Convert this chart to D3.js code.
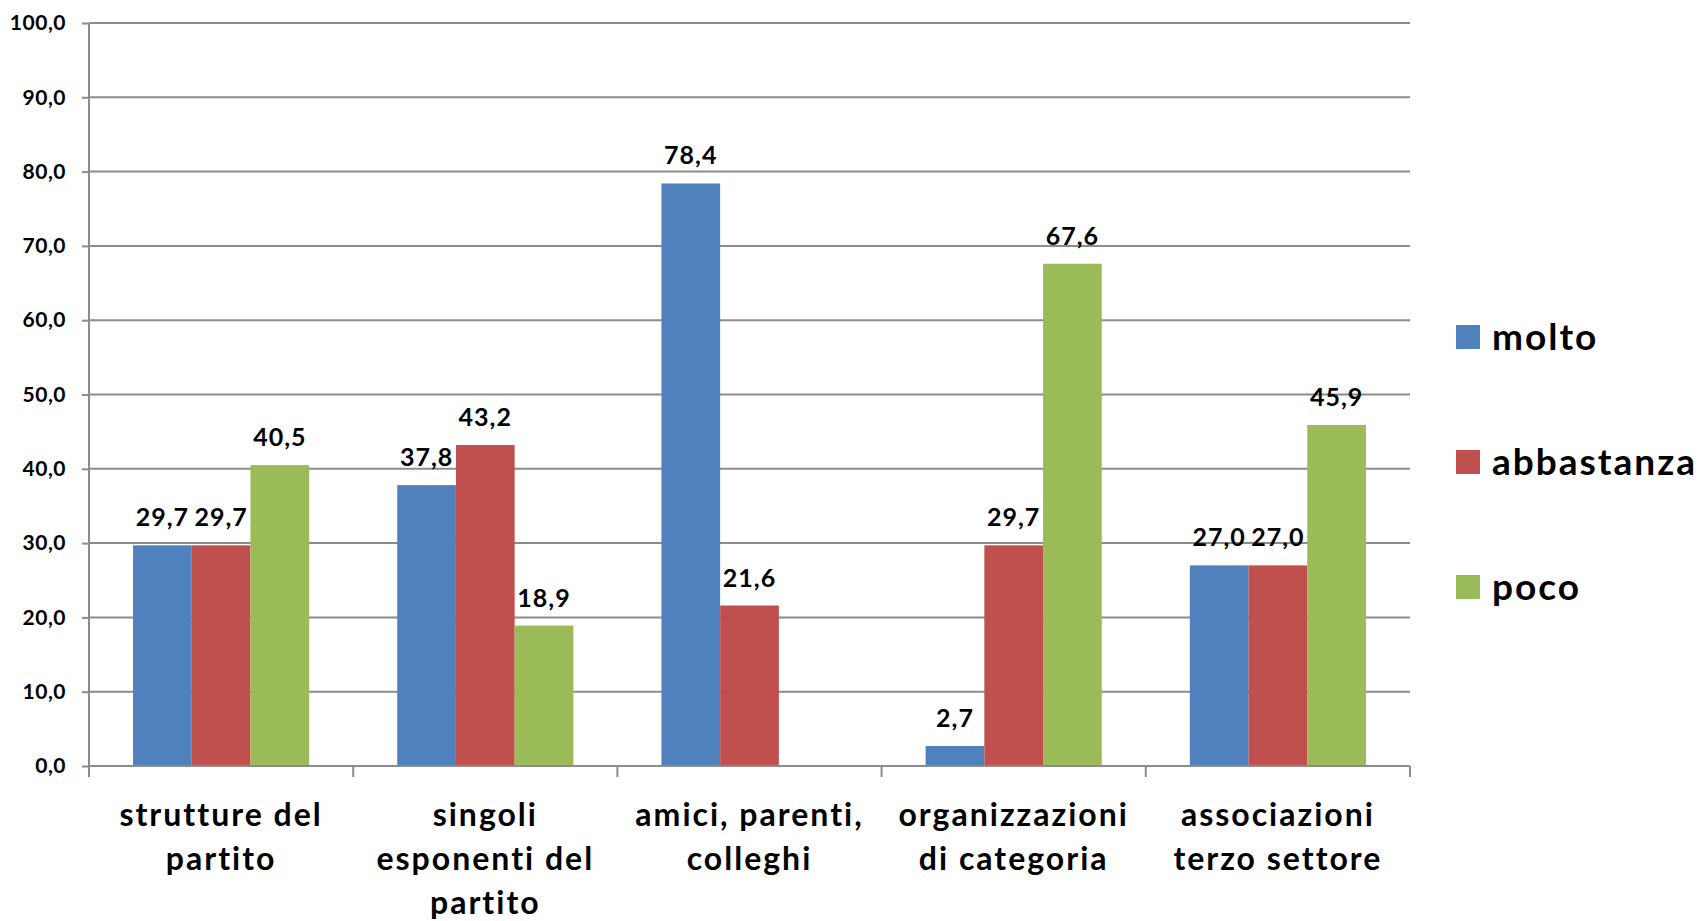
<!DOCTYPE html>
<html>
<head>
<meta charset="utf-8">
<script src="https://cdn.jsdelivr.net/npm/d3@7"></script>
<style>
  html, body { margin: 0; padding: 0; background: #fff; }
  svg text { font-family: Lato, "Open Sans", sans-serif; font-weight: bold; fill: #000; }
</style>
</head>
<body>
<div id="chart"></div>
<script>
const categories = [
  ["strutture del", "partito"],
  ["singoli", "esponenti del", "partito"],
  ["amici, parenti,", "colleghi"],
  ["organizzazioni", "di categoria"],
  ["associazioni", "terzo settore"]
];
const seriesNames = ["molto", "abbastanza", "poco"];
const molto = [29.7, 37.8, 78.4, 2.7, 27.0];
const abbastanza = [29.7, 43.2, 21.6, 29.7, 27.0];
const poco = [40.5, 18.9, null, 67.6, 45.9];
const yTicks = [0, 10, 20, 30, 40, 50, 60, 70, 80, 90, 100];
const colors = ["#4F81BD", "#C0504D", "#9BBB59"];

const seriesValues = [molto, abbastanza, poco];
const fullWidth = 1699, fullHeight = 921;
const plotLeft = 89, plotRight = 1410, plotTop = 23, plotBottom = 766;

const it = d3.formatLocale({ decimal: ",", thousands: ".", grouping: [3], currency: ["", "€"] });
const fmt = it.format(".1f");

const svg = d3.select("#chart").append("svg")
  .attr("width", fullWidth)
  .attr("height", fullHeight);

const yScale = d3.scaleLinear().domain([0, 100]).range([plotBottom, plotTop]);
const x0 = d3.scaleBand().domain(d3.range(categories.length)).range([plotLeft, plotRight]).paddingInner(0).paddingOuter(0);
// gap width 150% -> bar group takes 3/(3+1.5) of the band
const x1 = d3.scaleBand().domain(d3.range(seriesNames.length))
  .range([0, x0.bandwidth()]).paddingInner(0).paddingOuter(0.75);

// gridlines
svg.append("g")
  .selectAll("line")
  .data(yTicks.filter(d => d > 0))
  .enter().append("line")
  .attr("x1", plotLeft).attr("x2", plotRight)
  .attr("y1", d => yScale(d)).attr("y2", d => yScale(d))
  .attr("stroke", "#8c8c8c").attr("stroke-width", 2);

// y axis
const yAxis = d3.axisLeft(yScale).tickValues(yTicks).tickFormat(fmt).tickSize(7).tickPadding(16);
const gy = svg.append("g").attr("transform", "translate(" + plotLeft + ",0)").call(yAxis);
gy.select(".domain").attr("stroke", "#8c8c8c").attr("stroke-width", 2).attr("d", "M0," + plotTop + "V" + (plotBottom + 11));
gy.selectAll(".tick line").attr("stroke", "#8c8c8c").attr("stroke-width", 2);
gy.selectAll(".tick text").style("font-size", "21px").style("letter-spacing", "0.5px").attr("fill", "#000");

// bars
const groups = svg.append("g").selectAll("g")
  .data(categories)
  .enter().append("g")
  .attr("transform", (d, i) => "translate(" + x0(i) + ",0)");

groups.selectAll("rect")
  .data((d, i) => seriesValues.map((s, j) => ({ j: j, v: s[i] })).filter(e => e.v !== null))
  .enter().append("rect")
  .attr("x", d => x1(d.j))
  .attr("width", x1.bandwidth())
  .attr("y", d => yScale(d.v))
  .attr("height", d => yScale(0) - yScale(d.v))
  .attr("fill", d => colors[d.j]);

groups.selectAll("text.val")
  .data((d, i) => seriesValues.map((s, j) => ({ j: j, v: s[i] })).filter(e => e.v !== null))
  .enter().append("text")
  .attr("class", "val")
  .attr("x", d => x1(d.j) + x1.bandwidth() / 2)
  .attr("y", d => yScale(d.v) - 19)
  .attr("text-anchor", "middle")
  .style("font-size", "25px")
  .style("letter-spacing", "1px")
  .text(d => fmt(d.v));

// x axis
const xAxisG = svg.append("g");
xAxisG.append("line")
  .attr("x1", plotLeft).attr("x2", plotRight)
  .attr("y1", plotBottom).attr("y2", plotBottom)
  .attr("stroke", "#8c8c8c").attr("stroke-width", 2);
xAxisG.selectAll("line.tick")
  .data(d3.range(categories.length + 1))
  .enter().append("line")
  .attr("class", "tick")
  .attr("x1", d => plotLeft + d * x0.step()).attr("x2", d => plotLeft + d * x0.step())
  .attr("y1", plotBottom).attr("y2", plotBottom + 11)
  .attr("stroke", "#8c8c8c").attr("stroke-width", 2);

const lineYs = [826, 870, 914];
categories.forEach((lines, i) => {
  const t = svg.append("text")
    .attr("text-anchor", "middle")
    .style("font-size", "32px")
    .style("letter-spacing", "2px");
  lines.forEach((ln, k) => {
    t.append("tspan")
      .attr("x", x0(i) + x0.bandwidth() / 2)
      .attr("y", lineYs[k])
      .text(ln);
  });
});

// legend
const legend = svg.append("g").selectAll("g")
  .data(seriesNames)
  .enter().append("g")
  .attr("transform", (d, i) => "translate(1456," + (337 + i * 125) + ")");
legend.append("rect")
  .attr("x", 0).attr("y", -12)
  .attr("width", 24).attr("height", 24)
  .attr("fill", (d, i) => colors[i]);
legend.append("text")
  .attr("x", 36).attr("y", 13)
  .style("font-size", "37px")
  .style("letter-spacing", "2px")
  .text(d => d);
</script>
</body>
</html>
